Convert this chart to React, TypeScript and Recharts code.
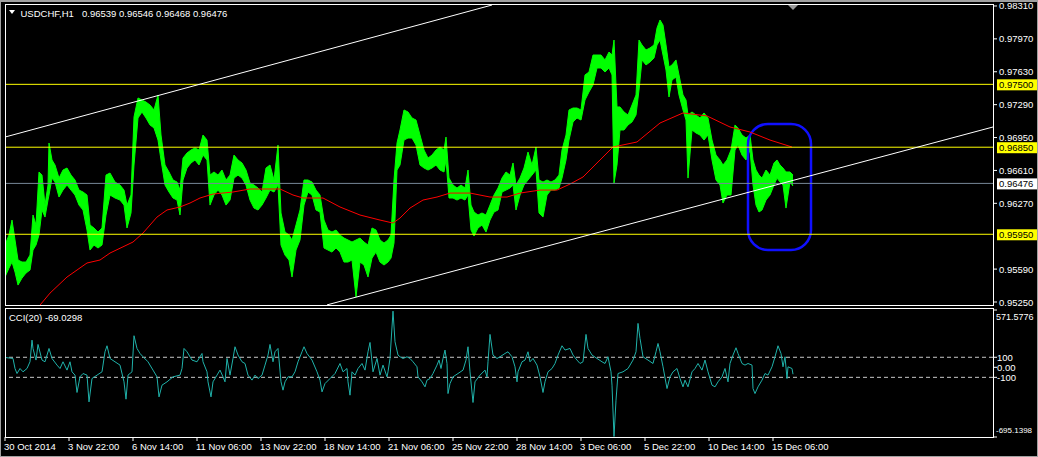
import {
  Area,
  ComposedChart,
  Line,
  ReferenceArea,
  ReferenceDot,
  ReferenceLine,
  XAxis,
  YAxis,
} from "recharts";

// H1 price samples: hour offset from 30 Oct 2014 00:00, bar high, bar low
const barHour = [
  0, 4, 7, 10, 13, 17, 21, 25, 28, 31,
  34, 37, 40, 43, 44, 47, 50, 54, 58, 62,
  66, 70, 74, 78, 82, 85, 89, 93, 97, 101,
  105, 110, 115, 119, 122, 126, 129, 133, 137, 141,
  145, 149, 153, 156, 160, 164, 168, 172, 175, 178,
  182, 186, 190, 194, 198, 202, 205, 209, 213, 217,
  221, 225, 229, 233, 237, 241, 245, 249, 253, 257,
  261, 265, 269, 273, 276, 280, 284, 287, 291, 295,
  299, 303, 307, 311, 315, 319, 323, 327, 331, 335,
  339, 343, 347, 351, 355, 359, 363, 367, 371, 375,
  379, 383, 386, 389, 392, 395, 399, 403, 407, 411,
  415, 419, 423, 427, 431, 435, 439, 441, 444, 448,
  452, 456, 460, 463, 466, 469, 473, 477, 481, 485,
  489, 493, 497, 501, 505, 508, 511, 515, 519, 523,
  527, 531, 534, 538, 542, 546, 550, 554, 557, 561,
  564, 568, 572, 576, 580, 584, 588, 592, 596, 600,
  604, 607, 609, 612, 615, 619, 623, 627, 631, 634,
  637, 641, 645, 649, 652, 655, 658, 661, 664, 667,
  671, 674, 678, 681, 683, 687, 691, 695, 699, 703,
  707, 711, 715, 718, 722, 726, 730, 733, 737, 741,
  745, 748, 751, 754, 757, 761, 765, 769, 772, 775,
  778, 781, 785, 788,
];
const barHigh = [
  0.95839, 0.95943, 0.96097, 0.95891, 0.95684, 0.95663, 0.95663, 0.95735, 0.96149, 0.96046,
  0.96594, 0.96562, 0.96252, 0.96459, 0.96893, 0.96718, 0.96666, 0.96531, 0.96614, 0.96635,
  0.96562, 0.96511, 0.96407, 0.96387, 0.96356, 0.96046, 0.96015, 0.95973, 0.96015, 0.96562,
  0.96583, 0.9649, 0.96459, 0.96407, 0.96252, 0.96356, 0.97162, 0.97359, 0.97338, 0.97317,
  0.97286, 0.97235, 0.9739, 0.96976, 0.96666, 0.96594, 0.96511, 0.9649, 0.96407, 0.96738,
  0.9679, 0.96821, 0.96842, 0.96821, 0.96976, 0.96924, 0.96562, 0.96594, 0.96562, 0.96614,
  0.96511, 0.96562, 0.96769, 0.96718, 0.96687, 0.96614, 0.9648, 0.96459, 0.96428, 0.96387,
  0.96635, 0.96666, 0.96511, 0.96872, 0.9617, 0.95973, 0.95943, 0.95891, 0.96046, 0.96201,
  0.96511, 0.96511, 0.9649, 0.96407, 0.96356, 0.96097, 0.95994, 0.95973, 0.95994, 0.95943,
  0.95911, 0.95891, 0.9587, 0.95891, 0.95911, 0.9587, 0.95839, 0.96015, 0.95994, 0.95891,
  0.95859, 0.95891, 0.95943, 0.96511, 0.96893, 0.97028, 0.97235, 0.97214, 0.97152, 0.97131,
  0.96976, 0.96821, 0.96738, 0.96769, 0.96821, 0.96852, 0.96821, 0.96955, 0.96531, 0.96459,
  0.96428, 0.96459, 0.96428, 0.96614, 0.96252, 0.9618, 0.96149, 0.9617, 0.96149, 0.96252,
  0.96356, 0.96428, 0.96531, 0.96594, 0.96562, 0.96687, 0.96459, 0.96531, 0.96635, 0.968,
  0.96666, 0.96852, 0.96511, 0.9649, 0.96511, 0.9649, 0.96511, 0.96562, 0.96821, 0.96976,
  0.97235, 0.97255, 0.97255, 0.97235, 0.97597, 0.97627, 0.97803, 0.97803, 0.97803, 0.97752,
  0.97834, 0.97803, 0.97958, 0.97266, 0.97266, 0.97214, 0.97183, 0.97286, 0.9739, 0.97958,
  0.97907, 0.97855, 0.97876, 0.97907, 0.98082, 0.98165, 0.98113, 0.97907, 0.97679, 0.977,
  0.97752, 0.97597, 0.9739, 0.97338, 0.97183, 0.97214, 0.97183, 0.97152, 0.97204, 0.97152,
  0.96924, 0.96769, 0.96718, 0.96666, 0.96718, 0.96821, 0.9708, 0.97049, 0.96976, 0.96945,
  0.96976, 0.96718, 0.96614, 0.96562, 0.96531, 0.96614, 0.96562, 0.96687, 0.96718, 0.96666,
  0.96635, 0.96594, 0.96594, 0.96562,
];
const barLow = [
  0.95508, 0.95601, 0.95663, 0.9556, 0.95425, 0.95497, 0.95549, 0.9558, 0.95787, 0.95839,
  0.95943, 0.96201, 0.96128, 0.96304, 0.96356, 0.96531, 0.9649, 0.96335, 0.96407, 0.96459,
  0.96407, 0.96356, 0.96252, 0.96201, 0.95994, 0.95787, 0.95839, 0.95808, 0.95839, 0.96149,
  0.96356, 0.96325, 0.96304, 0.96252, 0.96015, 0.9617, 0.96666, 0.97152, 0.97214, 0.97152,
  0.9708, 0.97049, 0.96924, 0.96718, 0.96459, 0.96387, 0.96325, 0.96304, 0.96149, 0.96511,
  0.96635, 0.96687, 0.96718, 0.96666, 0.96769, 0.96718, 0.96252, 0.96356, 0.96407, 0.96356,
  0.96252, 0.96304, 0.96531, 0.96562, 0.96531, 0.96459, 0.96304, 0.96221, 0.96201, 0.96252,
  0.96325, 0.96407, 0.96387, 0.96459, 0.95839, 0.95735, 0.95684, 0.95508, 0.95787, 0.95891,
  0.96252, 0.96387, 0.96356, 0.96201, 0.9618, 0.95808, 0.95787, 0.95766, 0.95808, 0.95766,
  0.95663, 0.95663, 0.95684, 0.95301, 0.95663, 0.95632, 0.95508, 0.95704, 0.95766, 0.95663,
  0.95632, 0.95663, 0.95704, 0.95859, 0.96614, 0.96666, 0.96924, 0.96945, 0.96945, 0.96872,
  0.96666, 0.96635, 0.96614, 0.96635, 0.96666, 0.96614, 0.96594, 0.96718, 0.96325, 0.96325,
  0.96304, 0.96325, 0.96304, 0.96356, 0.95994, 0.95932, 0.96015, 0.96046, 0.95973, 0.96097,
  0.9618, 0.96201, 0.96387, 0.96407, 0.96428, 0.96459, 0.96201, 0.96356, 0.96459, 0.96511,
  0.96562, 0.96614, 0.9617, 0.96128, 0.96356, 0.96407, 0.96407, 0.96428, 0.96531, 0.96718,
  0.96924, 0.97111, 0.97152, 0.97131, 0.97338, 0.97421, 0.97493, 0.97669, 0.97669, 0.97627,
  0.97669, 0.97597, 0.9648, 0.96666, 0.97028, 0.97028, 0.9708, 0.97111, 0.97183, 0.97441,
  0.97752, 0.977, 0.97731, 0.97772, 0.97907, 0.97958, 0.97803, 0.97648, 0.97369, 0.97545,
  0.97576, 0.9739, 0.97235, 0.97131, 0.96531, 0.97028, 0.96997, 0.96976, 0.96924, 0.96976,
  0.96718, 0.96511, 0.96459, 0.96273, 0.96356, 0.96356, 0.96821, 0.96872, 0.96769, 0.96718,
  0.96821, 0.96459, 0.96252, 0.9618, 0.96201, 0.96304, 0.96356, 0.96459, 0.96531, 0.9649,
  0.96459, 0.96221, 0.9649, 0.96449,
];

// red moving average
const maHour = [
  35, 45, 62, 82, 95, 105, 128, 138, 152, 162, 175, 185, 195, 208, 228, 245,
  275, 288, 298, 318, 335, 355, 375, 388, 395, 405, 418, 432, 445, 465, 485, 502,
  515, 535, 552, 565, 578, 595, 608, 632, 655, 678, 702, 725, 745, 765, 787,
];
const maValue = [
  0.95218, 0.95342, 0.95508, 0.95653, 0.95684, 0.95756, 0.9587, 0.95963, 0.96128, 0.96201,
  0.96232, 0.96273, 0.96325, 0.96366, 0.96387, 0.96418, 0.96418, 0.96356, 0.96325, 0.96325,
  0.96232, 0.96149, 0.96097, 0.96066, 0.96118, 0.96221, 0.96304, 0.96335, 0.96376, 0.96376,
  0.96335, 0.96335, 0.96376, 0.96407, 0.96407, 0.96469, 0.96542, 0.96718, 0.96852, 0.96904,
  0.971, 0.97204, 0.97173, 0.97059, 0.97007, 0.96924, 0.96852,
];

// CCI(20)
const cciHour = [
  0, 8, 10, 12, 15, 18, 22, 25, 27, 28, 31, 33, 37, 40, 44, 47, 52, 55, 58, 62,
  65, 67, 70, 72, 75, 78, 82, 84, 87, 92, 97, 100, 102, 105, 110, 115, 119, 121, 123, 127,
  129, 132, 135, 138, 143, 148, 152, 154, 157, 162, 168, 175, 177, 179, 182, 187, 192, 195, 197, 198,
  202, 203, 206, 208, 212, 215, 218, 220, 222, 225, 228, 230, 233, 237, 240, 243, 247, 250, 253, 257,
  260, 263, 265, 268, 270, 273, 276, 278, 280, 283, 287, 290, 293, 297, 299, 302, 307, 312, 315, 317,
  320, 325, 330, 335, 338, 342, 343, 345, 347, 350, 353, 357, 360, 363, 365, 368, 372, 375, 378, 382,
  383, 385, 388, 390, 393, 395, 398, 402, 405, 408, 412, 413, 417, 420, 422, 425, 428, 432, 434, 436,
  438, 440, 442, 443, 445, 448, 453, 458, 461, 463, 465, 468, 470, 475, 480, 482, 483, 485, 488, 492,
  495, 500, 503, 507, 510, 512, 513, 517, 520, 523, 525, 528, 532, 535, 538, 540, 543, 547, 550, 553,
  557, 560, 565, 568, 572, 575, 578, 581, 583, 587, 592, 597, 600, 603, 606, 607, 609, 611, 613, 618,
  623, 628, 631, 633, 635, 638, 643, 648, 651, 653, 655, 658, 662, 665, 668, 672, 675, 678, 680, 683,
  687, 690, 693, 697, 700, 703, 707, 710, 713, 717, 720, 723, 725, 728, 731, 733, 737, 740, 743, 747,
  748, 750, 753, 757, 760, 763, 767, 770, 773, 776, 778, 780, 782, 783, 787, 788,
];
const cciValue = [
  98, 88, -12, -62, -12, -45, -12, 55, 271, 188, 72, 228, 72, 55, 188, 88, 22, -12, 55, -28,
  55, -45, -78, -251, -95, -62, -78, -345, -112, -78, -45, 155, 215, 88, 55, 22, -145, -318, -78, -45,
  315, 188, 138, 105, 55, -28, -95, -295, -178, -145, -95, -78, -12, 188, 155, 72, 55, 105, 138, 55,
  -45, -145, -295, -145, -78, -28, -95, -145, 88, -78, 88, 205, 122, 55, 38, -78, -128, -78, -112, -78,
  22, 122, 228, 55, 155, 188, -145, -228, -145, -95, -95, -45, 55, 155, 205, 138, 72, -45, -128, -245,
  -162, -112, -62, 38, -45, -12, -145, -278, -45, -78, -12, 38, -28, 155, 248, -45, 88, -78, 22, -95,
  -45, 88, 560, 255, 122, 105, 88, 105, 88, 55, 5, -95, -145, -195, -128, -112, -62, 22, 72, -12,
  88, 172, 38, -262, -162, -95, -62, -28, 72, 205, -45, -351, -145, -78, -28, -95, 55, 328, 122, 88,
  105, 138, 155, 105, 5, -145, -45, 55, 72, 155, 55, 88, 22, -95, -251, -145, -45, -12, 38, 122,
  215, 172, 188, 122, 72, 38, 55, 328, 188, 122, 88, 55, 38, 105, -45, -178, -690, -328, -62, -45,
  -12, 72, 155, 438, 288, 105, 72, 38, 155, 238, 155, 5, -212, -95, -45, -12, -112, -195, -128, -195,
  -45, -12, 38, -28, 72, -45, -178, -195, -145, -95, -12, -145, 38, 122, 195, 138, 38, 22, 38, 22,
  -212, -262, -195, -128, -62, -78, 5, 105, 215, 138, 5, 105, -112, 5, -12, -69,
];

const timeTicks = [0, 64, 128, 192, 256, 320, 384, 448, 512, 576, 640, 704, 768];
const timeLabels = [
  "30 Oct 2014", "3 Nov 22:00", "6 Nov 14:00", "11 Nov 06:00", "13 Nov 22:00",
  "18 Nov 14:00", "21 Nov 06:00", "25 Nov 22:00", "28 Nov 14:00", "3 Dec 06:00",
  "5 Dec 22:00", "10 Dec 14:00", "15 Dec 06:00",
];
const priceTicks = [0.9831, 0.9797, 0.9763, 0.9729, 0.9695, 0.9661, 0.9627, 0.9559, 0.9525];
const yellowLevels = [0.975, 0.9685, 0.9595];
const lastPrice = 0.96476;
const ohlc = [0.96539, 0.96546, 0.96468, 0.96476];
const upperChannel = [
  { x: 0, y: 0.96955 },
  { x: 487, y: 0.9832 },
];
const lowerChannel = [
  { x: 322, y: 0.9522 },
  { x: 988, y: 0.97059 },
];
const boxHours = [743, 806];
const boxPrices = [0.95787, 0.9709];
const cciTicks = [571.5776, 100, 0, -100, -695.1398];
const cciLevels = [100, -100];
const cciLast = -69.0298;

const FONT = "'Liberation Sans', Arial, sans-serif";
const FS = 9.5;
const HOURS: [number, number] = [0, 988];

const bars = barHour.map((h, i) => ({ h, range: [barLow[i], barHigh[i]] }));
const ma = maHour.map((h, i) => ({ h, v: maValue[i] }));
const cci = cciHour.map((h, i) => ({ h, v: cciValue[i] }));

function priceTick(props: any) {
  const { x, y, payload } = props;
  return (
    <text x={x} y={y} fill="#fff" fontFamily={FONT} fontSize={FS} dominantBaseline="central">
      {payload.value.toFixed(5)}
    </text>
  );
}

function cciTick(props: any) {
  const { x, y, payload } = props;
  const v = payload.value;
  let dy = 0;
  if (v === cciTicks[0]) dy = 7;
  if (v === cciTicks[cciTicks.length - 1]) dy = -7;
  const label = v === 0 ? "0.00" : Number.isInteger(v) ? String(v) : v.toFixed(4);
  // long min/max labels get a smaller size so they stay inside the window
  const size = label.length > 8 ? 8 : label.length > 6 ? 9 : FS;
  const shift = label.length > 6 ? -3 : -2;
  return (
    <text x={x + shift} y={y + dy} fill="#fff" fontFamily={FONT} fontSize={size} dominantBaseline="central">
      {label}
    </text>
  );
}

function timeTick(props: any) {
  const { x, y, payload } = props;
  const idx = timeTicks.indexOf(payload.value);
  return (
    <text x={x - 1} y={y + 3} fill="#fff" fontFamily={FONT} fontSize={FS} dominantBaseline="central">
      {timeLabels[idx]}
    </text>
  );
}

function tag(value: number, bg: string) {
  return (props: any) => {
    const vb = props.viewBox || {};
    const right = vb.x + vb.width;
    return (
      <g>
        <rect x={right + 4} y={vb.y - 5} width={44} height={11} fill={bg} />
        <text x={right + 6} y={vb.y + 0.5} fill="#000" fontFamily={FONT} fontSize={FS} dominantBaseline="central">
          {value.toFixed(5)}
        </text>
      </g>
    );
  };
}

function RoundBox(props: any) {
  const { x, y, width, height } = props;
  return (
    <rect x={x} y={y} width={width} height={height} rx={20} ry={20} fill="none" stroke="#1010ff" strokeWidth={2.5} />
  );
}

function ShiftMark(props: any) {
  const { cx, cy } = props;
  return <polygon points={`${cx - 5},${cy} ${cx + 5},${cy} ${cx},${cy + 5}`} fill="#9a9a9a" />;
}

export default function App() {
  return (
    <div style={{ position: "fixed", left: 0, top: 0, width: 1038, height: 457, background: "#000" }}>
      <ComposedChart
        width={1038}
        height={310}
        margin={{ top: 5, right: 0, bottom: 5, left: 5 }}
        style={{ position: "absolute", left: 0, top: 0 }}
      >
        <XAxis type="number" dataKey="h" domain={HOURS} hide allowDataOverflow />
        <YAxis
          orientation="right"
          width={45}
          type="number"
          domain={[0.95219, 0.9832]}
          allowDataOverflow
          ticks={priceTicks}
          interval={0}
          tick={priceTick}
          tickSize={4}
          tickLine={{ stroke: "#fff" }}
          axisLine={false}
        />
        <Area
          data={bars}
          dataKey="range"
          type="linear"
          stroke="#00ff00"
          strokeWidth={1}
          fill="#00ff00"
          fillOpacity={1}
          dot={false}
          activeDot={false}
          isAnimationActive={false}
        />
        <Line
          data={ma}
          dataKey="v"
          type="linear"
          stroke="#ff0000"
          strokeWidth={1}
          dot={false}
          activeDot={false}
          isAnimationActive={false}
        />
        {yellowLevels.map((lvl) => (
          <ReferenceLine key={lvl} y={lvl} stroke="#ffff00" label={tag(lvl, "#ffff00")} />
        ))}
        <ReferenceLine y={lastPrice} stroke="#778899" label={tag(lastPrice, "#ffffff")} />
        <ReferenceLine segment={upperChannel} stroke="#ffffff" ifOverflow="visible" />
        <ReferenceLine segment={lowerChannel} stroke="#ffffff" ifOverflow="visible" />
        <ReferenceArea
          x1={boxHours[0]}
          x2={boxHours[1]}
          y1={boxPrices[0]}
          y2={boxPrices[1]}
          shape={RoundBox}
        />
        <ReferenceDot x={788} y={0.9832} shape={ShiftMark} />
      </ComposedChart>

      <ComposedChart
        width={1038}
        height={157}
        margin={{ top: 10, right: 0, bottom: 0, left: 5 }}
        style={{ position: "absolute", left: 0, top: 300 }}
      >
        <XAxis
          type="number"
          dataKey="h"
          domain={HOURS}
          allowDataOverflow
          ticks={timeTicks}
          interval={0}
          tick={timeTick}
          tickSize={4}
          tickLine={{ stroke: "#fff" }}
          axisLine={false}
          height={20}
        />
        <YAxis
          orientation="right"
          width={45}
          type="number"
          domain={[-695.1398, 571.5776]}
          allowDataOverflow
          ticks={cciTicks}
          interval={0}
          tick={cciTick}
          tickSize={4}
          tickLine={{ stroke: "#fff" }}
          axisLine={false}
        />
        {cciLevels.map((lvl) => (
          <ReferenceLine key={lvl} y={lvl} stroke="#c8c8c8" strokeDasharray="4 3" />
        ))}
        <Line
          data={cci}
          dataKey="v"
          type="linear"
          stroke="#20b2aa"
          strokeWidth={1}
          dot={false}
          activeDot={false}
          isAnimationActive={false}
        />
      </ComposedChart>

      <svg
        width={1038}
        height={457}
        style={{ position: "absolute", left: 0, top: 0, pointerEvents: "none" }}
      >
        <rect x={0} y={0} width={1038} height={2} fill="#a0a0a0" />
        <rect x={0} y={0} width={1} height={457} fill="#a0a0a0" />
        <rect x={1037} y={0} width={1} height={457} fill="#a0a0a0" />
        <rect x={0} y={456} width={1038} height={1} fill="#a0a0a0" />
        <rect x={5.5} y={4.5} width={988} height={301} fill="none" stroke="#fff" />
        <rect x={5.5} y={308.5} width={988} height={129} fill="none" stroke="#fff" />
        <polygon points="9,10 15,10 12,14" fill="#fff" />
        <text x={20.5} y={13} fill="#fff" fontFamily={FONT} fontSize={FS} dominantBaseline="central">
          USDCHF,H1
        </text>
        <text x={82} y={13} fill="#fff" fontFamily={FONT} fontSize={FS} dominantBaseline="central">
          {ohlc.map((v) => v.toFixed(5)).join(" ")}
        </text>
        <text x={9} y={317} fill="#fff" fontFamily={FONT} fontSize={FS} dominantBaseline="central">
          {`CCI(20) ${cciLast}`}
        </text>
      </svg>
    </div>
  );
}
